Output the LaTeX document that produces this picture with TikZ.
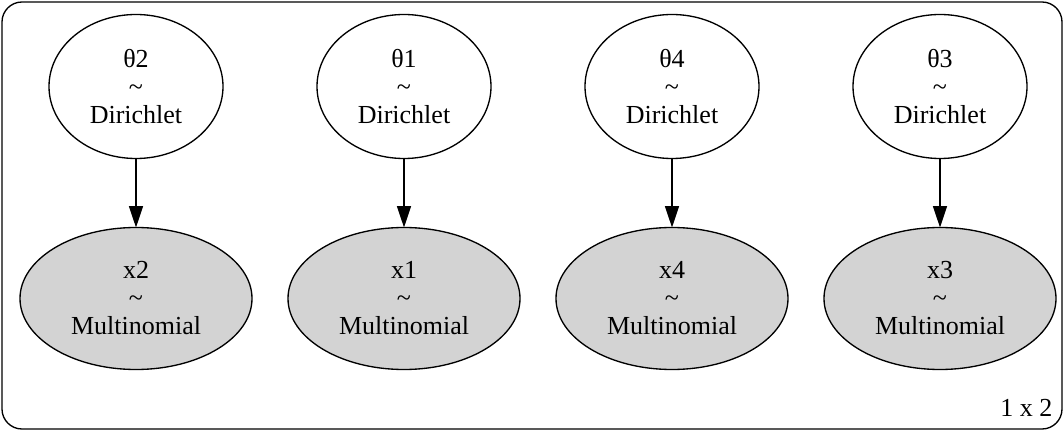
\documentclass[tikz,border=0pt]{standalone}
\usepackage{fontspec}
\setmainfont{Liberation Serif}
\usetikzlibrary{positioning,shapes.geometric,arrows.meta}
\definecolor{obsgray}{RGB}{211,211,211}

\tikzset{
    every node/.style={font=\fontsize{19.5}{21}\selectfont, align=center},
    prior/.style={ellipse, draw, line width=1pt, inner sep=0pt, outer sep=0pt,
        minimum width=130.5pt, minimum height=108pt},
    observed/.style={prior, fill=obsgray, minimum width=174pt, minimum height=106.5pt},
    dep/.style={line width=1pt, -{Triangle[length=16pt,width=10.5pt]}}
}

\begin{document}
\begin{tikzpicture}[x=0.75pt,y=-0.75pt]
        \useasboundingbox (0,0) rectangle (1064,431);
        \draw[line width=1pt, rounded corners=15pt] (2,2) rectangle (1062,429);
        \node[prior] (theta2) at (136,86.5) {θ2\\\textasciitilde\\Dirichlet};
        \node[prior] (theta1) at (404,86.5) {θ1\\\textasciitilde\\Dirichlet};
        \node[prior] (theta4) at (672,86.5) {θ4\\\textasciitilde\\Dirichlet};
        \node[prior] (theta3) at (940,86.5) {θ3\\\textasciitilde\\Dirichlet};
        \node[observed, below = 51.75pt of theta2] (x2) {x2\\\textasciitilde\\Multinomial};
        \node[observed, below = 51.75pt of theta1] (x1) {x1\\\textasciitilde\\Multinomial};
        \node[observed, below = 51.75pt of theta4] (x4) {x4\\\textasciitilde\\Multinomial};
        \node[observed, below = 51.75pt of theta3] (x3) {x3\\\textasciitilde\\Multinomial};
        \draw[dep] (theta2) -- (x2);
        \draw[dep] (theta1) -- (x1);
        \draw[dep] (theta4) -- (x4);
        \draw[dep] (theta3) -- (x3);
        \node[anchor=base east] (platelabel) at (1057,416) {1 x 2};
    \end{tikzpicture}
\end{document}
